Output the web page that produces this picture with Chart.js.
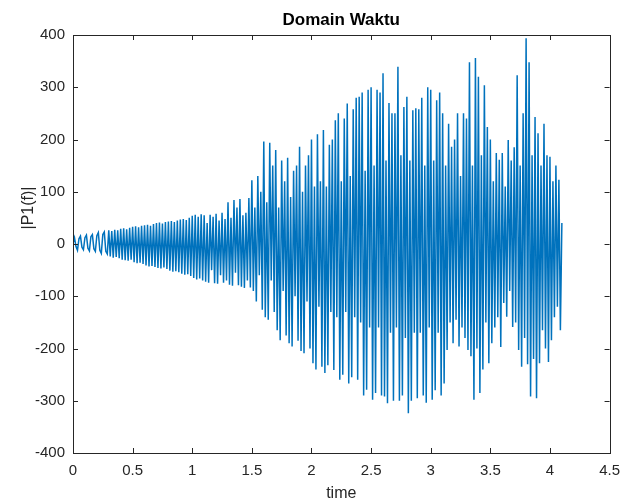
<!DOCTYPE html>
<html>
<head>
<meta charset="utf-8">
<script src="https://cdn.jsdelivr.net/npm/chart.js@4"></script>
<style>
  html, body { margin: 0; padding: 0; background: #ffffff; }
  #wrap { width: 629px; height: 501px; }
</style>
</head>
<body>
<div id="wrap"><canvas id="c" width="629" height="501"></canvas></div>
<script>
// ---- data ----
const titleText = "Domain Waktu";
const xLabel = "time";
const yLabel = "|P1(f)|";
const sampleStep = 1 / 80;           // seconds between stored samples
const xTicks = [0, 0.5, 1, 1.5, 2, 2.5, 3, 3.5, 4, 4.5];
const yTicks = [-400, -300, -200, -100, 0, 100, 200, 300, 400];

// signal samples, eight per 0.1 s
const signal = [
  2, 12, -5, -12, 10, 15, -6, -11,
  12, 17, -8, -13, 14, 18, -9, -14,
  16, 22, -12, -18, 18, 23, -14, -19,
  26, -24, 25, -26, 27, -25, 26, -27,
  29, -30, 30, -31, 28, -32, 31, -30,
  33, -35, 34, -37, 32, -36, 35, -38,
  36, -41, 37, -43, 35, -42, 38, -44,
  40, -46, 41, -47, 39, -45, 42, -48,
  43, -51, 44, -53, 42, -52, 45, -54,
  47, -57, 48, -59, 46, -58, 50, -61,
  54, -65, 56, -68, 52, -66, 57, -70,
  55, -72, 40, -74, 56, -50, 52, -75,
  58, -76, 45, -60, 60, -74, 48, -70,
  80, -78, 50, -80, 84, -55, 70, -79,
  86, -82, 55, -84, 60, -70, 88, -83,
  122, -90, 70, -110, 130, -60, 100, -126,
  196, -140, 80, -145, 194, -70, 150, -130,
  180, -165, 70, -184, 160, -90, 120, -175,
  165, -190, 90, -196, 140, -100, 150, -185,
  186, -205, 100, -209, 150, -110, 170, -200,
  200, -228, 110, -240, 210, -120, 120, -235,
  218, -247, 110, -232, 190, -130, 200, -241,
  237, -140, 250, -260, 120, -250, 240, -130,
  269, -267, 130, -255, 258, -140, 280, -260,
  282, -150, 290, -290, 140, -279, 295, -160,
  300, -298, 150, -285, 295, -160, 290, -290,
  327, -292, 160, -305, 270, -170, 250, -300,
  250, -160, 339, -300, 170, -290, 262, -180,
  282, -324, 160, -300, 256, -170, 260, -295,
  258, -170, 280, -290, 150, -304, 300, -160,
  295, -298, 160, -280, 275, -170, 290, -290,
  250, -267, 150, -203, 230, -150, 186, -190,
  200, -145, 250, -196, 130, -160, 250, -180,
  240, -203, 348, -215, 150, -298, 356, -200,
  320, -285, 170, -240, 304, -150, 224, -228,
  200, -190, 120, -160, 174, -140, 161, -197,
  174, -113, 110, -139, 199, -90, 160, -159,
  185, -150, 323, -203, 150, -235, 250, -180,
  394, -230, 348, -292, 170, -220, 243, -295,
  212, -228, 150, -165, 230, -200, 170, -226,
  167, -184, 120, -140, 150, -120, 123, -165,
  40
];

// ---- build points ----
const points = signal.map((v, i) => ({ x: i * sampleStep, y: v }));

const axisColor = '#262626';
const FONT = '"Liberation Sans", Arial, Helvetica, sans-serif';

const matlabBox = {
  id: 'matlabBox',
  afterDraw(chart) {
    const { ctx, chartArea: a, scales } = chart;
    ctx.save();
    ctx.strokeStyle = axisColor;
    ctx.lineWidth = 1;
    ctx.beginPath();
    const tl = 5;
    scales.x.ticks.forEach(t => {
      const px = Math.round(scales.x.getPixelForValue(t.value)) + 0.5;
      ctx.moveTo(px, a.bottom); ctx.lineTo(px, a.bottom - tl);
      ctx.moveTo(px, a.top); ctx.lineTo(px, a.top + tl);
    });
    scales.y.ticks.forEach(t => {
      const py = Math.round(scales.y.getPixelForValue(t.value)) + 0.5;
      ctx.moveTo(a.left, py); ctx.lineTo(a.left + tl, py);
      ctx.moveTo(a.right, py); ctx.lineTo(a.right - tl, py);
    });
    ctx.stroke();
    ctx.strokeRect(Math.round(a.left) + 0.5, Math.round(a.top) + 0.5,
                   Math.round(a.right - a.left), Math.round(a.bottom - a.top));
    // texts
    ctx.fillStyle = '#000000';
    ctx.textAlign = 'center';
    ctx.textBaseline = 'middle';
    ctx.font = 'bold 17px ' + FONT;
    ctx.fillText(titleText, (a.left + a.right) / 2, 20);
    ctx.fillStyle = axisColor;
    ctx.font = '16px ' + FONT;
    ctx.fillText(xLabel, (a.left + a.right) / 2, 494);
    ctx.save();
    ctx.translate(29, 208);
    ctx.rotate(-Math.PI / 2);
    ctx.fillText(yLabel, 0, 0);
    ctx.restore();
    ctx.restore();
  }
};

new Chart(document.getElementById('c'), {
  type: 'line',
  data: {
    datasets: [{
      data: points,
      borderColor: '#0072BD',
      borderWidth: 1.5,
      borderJoinStyle: 'miter',
      pointRadius: 0,
      tension: 0,
      fill: false
    }]
  },
  options: {
    responsive: false,
    animation: false,
    parsing: false,
    normalized: true,
    layout: { padding: { top: 35, right: 15, left: 0, bottom: 0 } },
    plugins: { legend: { display: false }, title: { display: false }, tooltip: { enabled: false } },
    scales: {
      x: {
        type: 'linear',
        min: 0, max: 4.5,
        afterBuildTicks: s => { s.ticks = xTicks.map(v => ({ value: v })); },
        afterFit: s => { s.height = 48; },
        grid: { display: false, drawTicks: false },
        border: { display: false },
        ticks: {
          color: axisColor, padding: 9, maxRotation: 0, autoSkip: false,
          font: { family: FONT, size: 15 },
          callback: v => String(+Number(v).toFixed(2))
        }
      },
      y: {
        type: 'linear',
        min: -400, max: 400,
        afterBuildTicks: s => { s.ticks = yTicks.map(v => ({ value: v })); },
        afterFit: s => { s.width = 73; },
        grid: { display: false, drawTicks: false },
        border: { display: false },
        ticks: {
          color: axisColor, padding: 8, autoSkip: false,
          font: { family: FONT, size: 15 },
          callback: v => String(v)
        }
      }
    }
  },
  plugins: [matlabBox]
});
</script>
</body>
</html>
